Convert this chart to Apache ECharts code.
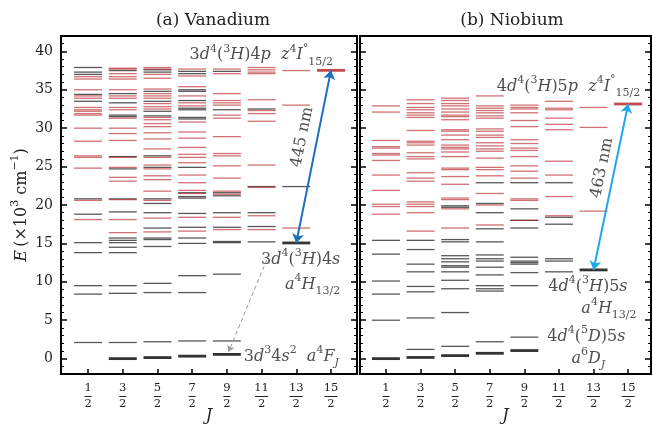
<!DOCTYPE html>
<html><head><meta charset="utf-8">
<script src="https://cdn.jsdelivr.net/npm/echarts@6/dist/echarts.min.js"></script>
<style>html,body{margin:0;padding:0;background:#fff}#c{width:653px;height:424px}</style>
</head><body><div id="c"></div>
<script>
// ---- tick labels: J = num/2 ----
const J_NUM = ['1','3','5','7','9','11','13','15'];
const J_DEN = '2';

// ---- Vanadium levels (x10^3 cm^-1), one list per J ----
const vEven = [
  [37.9, 37.3, 37.0, 34.4, 33.5, 20.8, 18.8, 15.1, 13.8, 9.5, 8.4, 2.1],
  [37.5, 34.5, 33.3, 31.7, 31.5, 26.3, 24.7, 20.8, 19.1, 15.7, 15.4, 15.1, 14.5, 13.8, 9.5, 8.5, 2.1],
  [37.6, 37.3, 34.8, 33.5, 32.2, 31.6, 26.4, 24.9, 20.8, 20.2, 19.0, 17.0, 15.7, 15.5, 14.6, 9.8, 8.6, 2.2],
  [37.4, 37.1, 35.0, 34.8, 33.6, 32.6, 32.4, 31.4, 31.2, 24.9, 21.6, 21.1, 20.9, 18.9, 17.1, 15.7, 15.0, 10.8, 8.6, 2.3],
  [37.4, 32.4, 21.6, 21.2, 19.0, 17.1, 15.25, 15.1, 11.0, 2.3],
  [32.5, 22.4, 19.0, 17.2, 15.2],
  [22.4],
  []
];
const vOdd = [
  [36.7, 36.4, 35.0, 34.2, 33.9, 32.7, 32.4, 32.2, 31.9, 31.7, 30.0, 28.3, 26.4, 26.2, 24.8, 20.6, 18.1],
  [37.8, 37.7, 37.1, 36.7, 36.4, 35.0, 34.2, 33.9, 32.7, 32.4, 31.3, 30.0, 29.3, 28.4, 26.2, 24.9, 23.6, 23.1, 20.7, 18.1, 16.4],
  [37.9, 37.7, 37.0, 36.5, 35.1, 34.5, 34.2, 33.9, 33.2, 32.8, 32.5, 31.4, 31.1, 30.6, 30.2, 29.4, 28.6, 27.3, 26.2, 25.2, 24.7, 23.8, 23.3, 21.8, 20.6, 18.3, 16.5],
  [37.7, 36.8, 35.4, 34.2, 33.3, 32.9, 30.8, 29.5, 28.7, 27.5, 26.6, 26.2, 25.5, 23.9, 22.9, 21.9, 21.5, 18.4, 16.6],
  [37.7, 37.1, 34.5, 33.6, 33.3, 33.0, 31.7, 31.3, 28.9, 26.7, 26.4, 25.1, 23.5, 21.8, 21.4, 18.4, 16.8],
  [37.9, 37.6, 37.3, 37.1, 33.7, 32.3, 31.9, 30.9, 25.2, 22.3, 18.6, 16.8],
  [37.5, 33.0, 17.0],
  []
];
// ground multiplet a4F_J (J index, E) and the transition levels
const vGround = [[1, 0.0], [2, 0.137], [3, 0.323], [4, 0.553]];
const vLower = [6, 15.06];   // 3d4(3H)4s a4H13/2
const vUpper = [7, 37.53];   // 3d4(3H)4p z4I15/2

// ---- Niobium levels ----
const nEven = [
  [15.4, 13.6, 10.1, 8.4, 5.0],
  [15.4, 14.2, 12.3, 11.3, 9.4, 8.7, 5.3, 1.2],
  [19.9, 19.7, 15.5, 15.2, 13.4, 13.0, 12.6, 12.1, 11.9, 11.3, 10.2, 9.1, 6.0, 1.6],
  [22.9, 20.2, 19.0, 16.9, 15.2, 13.5, 13.0, 12.7, 11.9, 10.9, 9.5, 9.1, 8.8, 2.2],
  [22.9, 19.5, 18.0, 17.0, 13.2, 12.7, 12.5, 12.3, 11.2, 9.5, 2.8],
  [22.9, 18.4, 17.5, 13.0, 12.7, 11.3],
  [],
  []
];
const nOdd = [
  [32.9, 32.1, 28.4, 27.6, 27.4, 26.7, 26.5, 25.8, 23.9, 21.9, 20.1, 19.8, 18.8],
  [33.7, 33.2, 32.7, 32.4, 32.0, 31.7, 31.4, 29.7, 28.3, 28.1, 27.8, 26.8, 26.3, 26.0, 24.2, 23.5, 23.1, 20.4, 20.1, 19.8, 19.0, 16.6],
  [33.9, 33.6, 33.2, 32.9, 32.5, 32.1, 31.7, 31.5, 31.1, 29.8, 29.6, 29.1, 28.5, 27.8, 27.5, 27.3, 26.9, 26.3, 24.8, 24.6, 23.7, 22.7, 20.9, 20.7, 19.5, 17.0],
  [34.2, 32.9, 32.6, 32.3, 32.0, 31.6, 31.3, 29.9, 29.6, 29.1, 28.8, 28.1, 27.7, 27.3, 27.0, 26.1, 24.9, 24.6, 23.8, 21.5, 20.0, 17.4],
  [33.0, 32.7, 32.5, 32.0, 31.0, 30.2, 28.5, 28.0, 27.4, 27.1, 26.3, 25.1, 24.4, 23.5, 20.8, 20.6, 18.0],
  [33.5, 32.6, 32.4, 31.3, 30.5, 29.8, 25.7, 23.9, 21.1, 18.6],
  [32.7, 30.1, 19.2],
  []
];
const nGround = [[0, 0.0], [1, 0.154], [2, 0.392], [3, 0.695], [4, 1.050]];
const nLower = [6, 11.55];   // 4d4(3H)5s a4H13/2
const nUpper = [7, 33.15];   // 4d4(3H)5p z4I15/2

// ---- labels ----
const TITLES = ['(a) Vanadium', '(b) Niobium'];
const WAVELENGTHS = ['445 nm', '463 nm'];

// ================= rendering =================
const SERIF = 'DejaVu Serif';
const INK = '#222';
const BLACK = 'rgba(0,0,0,0.82)';
const RED = 'rgba(180,28,34,0.78)';

function pts(levels) {
  const out = [];
  levels.forEach((arr, j) => arr.forEach(e => out.push([j, e])));
  return out;
}

const rich = {
  r:  {fontFamily: SERIF, fontSize: 16, color: INK, lineHeight: 24},
  i:  {fontFamily: SERIF, fontSize: 16, color: INK, fontStyle: 'italic', lineHeight: 24},
  sp: {fontFamily: SERIF, fontSize: 11, color: INK, lineHeight: 12, verticalAlign: 'top'},
  sb: {fontFamily: SERIF, fontSize: 11, color: INK, lineHeight: 9, verticalAlign: 'bottom'},
  sbi:{fontFamily: SERIF, fontSize: 11, color: INK, fontStyle: 'italic', lineHeight: 9, verticalAlign: 'bottom'}
};

function levelSeries(name, data, color, xi, h, z) {
  return {
    type: 'scatter', name, xAxisIndex: xi, yAxisIndex: xi * 2,
    data, symbol: 'rect', symbolSize: [28, h], silent: true, z,
    itemStyle: {color}, emphasis: {disabled: true}, animation: false
  };
}

function arrowSeries(lower, upper, color, xi) {
  return {
    type: 'lines', coordinateSystem: 'cartesian2d', xAxisIndex: xi, yAxisIndex: xi * 2,
    symbol: ['arrow', 'arrow'], symbolSize: 9, silent: true, z: 6, animation: false,
    lineStyle: {color, width: 2, opacity: 1},
    data: [{coords: [lower, upper]}]
  };
}

function annot(value, text, opts) {
  return {value, label: Object.assign({show: true, formatter: text, rich, position: 'inside'}, opts)};
}

function annotSeries(items, xi) {
  return {
    type: 'scatter', xAxisIndex: xi, yAxisIndex: xi * 2, symbolSize: 1, silent: true, z: 8,
    itemStyle: {color: 'rgba(0,0,0,0)'}, animation: false, data: items
  };
}

const mid = (a, b) => [(a[0] + b[0]) / 2, (a[1] + b[1]) / 2];

function xAxisFor(gi, min, max) {
  return {
    type: 'value', gridIndex: gi, min, max, minInterval: 1, maxInterval: 1, splitNumber: 8,
    name: 'J', nameLocation: 'middle', nameGap: 34, nameMoveOverlap: false,
    nameTextStyle: {fontFamily: SERIF, fontSize: 16, fontStyle: 'italic', color: INK, verticalAlign: 'top'},
    axisLine: {show: false, onZero: false},
    axisTick: {show: true, inside: true, length: 5, lineStyle: {color: '#000', width: 1.5}},
    splitLine: {show: false},
    axisLabel: {
      margin: 8, interval: 0,
      formatter: v => {
        const k = Math.round(v);
        if (Math.abs(v - k) > 1e-6 || k < 0 || k >= J_NUM.length) return '';
        const bar = J_NUM[k].length > 1 ? 'b2' : 'b1';
        return '{n|' + J_NUM[k] + '}\n{' + bar + '| }\n{n|' + J_DEN + '}';
      },
      rich: {
        n: {fontFamily: SERIF, fontSize: 11.5, color: INK, lineHeight: 13, align: 'center'},
        b1: {width: 7, height: 1, lineHeight: 3, fontSize: 1, backgroundColor: INK, align: 'center'},
        b2: {width: 13, height: 1, lineHeight: 3, fontSize: 1, backgroundColor: INK, align: 'center'}
      }
    }
  };
}

function yAxisFor(gi, position, labels) {
  const ax = {
    type: 'value', gridIndex: gi, position, min: -2, max: 42,
    minInterval: 5, maxInterval: 5, splitNumber: 9,
    axisLine: {show: false, onZero: false},
    axisTick: {show: true, inside: true, length: 6, lineStyle: {color: '#000', width: 1.5}},
    minorTick: {show: true, splitNumber: 5, length: 3, lineStyle: {color: '#000', width: 1}},
    splitLine: {show: false}, minorSplitLine: {show: false},
    axisLabel: {show: labels, margin: 8, fontFamily: SERIF, fontSize: 14, color: INK,
      formatter: v => (Math.abs(v % 5) < 1e-6 && v >= 0 && v <= 40) ? String(v) : ''}
  };
  if (labels) {
    ax.name = '{i|E} {r|(×10}{sp|3}{r| cm}{sp|−1}{r|)}';
    ax.nameLocation = 'middle';
    ax.nameGap = 27;
    ax.nameRotate = 90;
    ax.nameTextStyle = {rich};
  }
  return ax;
}

const chart = echarts.init(document.getElementById('c'));

const gridBase = {top: 36, height: 338, show: true, borderColor: '#000', borderWidth: 2,
  backgroundColor: 'transparent', containLabel: false, outerBoundsMode: 'none'};

const option = {
  backgroundColor: '#fff',
  animation: false,
  title: [
    {text: TITLES[0], left: 208, top: 7, textAlign: 'center',
     textStyle: {fontFamily: SERIF, fontWeight: 'normal', fontSize: 17, color: INK}},
    {text: TITLES[1], left: 507, top: 7, textAlign: 'center',
     textStyle: {fontFamily: SERIF, fontWeight: 'normal', fontSize: 17, color: INK}}
  ],
  grid: [
    Object.assign({left: 61, width: 296}, gridBase),
    Object.assign({left: 360, width: 291}, gridBase)
  ],
  xAxis: [xAxisFor(0, -0.78, 7.75), xAxisFor(1, -0.75, 7.66)],
  yAxis: [yAxisFor(0, 'left', true), yAxisFor(0, 'right', false),
          yAxisFor(1, 'left', false), yAxisFor(1, 'right', false)],
  series: [
    levelSeries('V even', pts(vEven), BLACK, 0, 1.3, 2),
    levelSeries('V odd', pts(vOdd), RED, 0, 1.3, 3),
    levelSeries('V ground', vGround, '#000', 0, 2.8, 4),
    levelSeries('V lower', [vLower], '#000', 0, 2.8, 4),
    levelSeries('V upper', [vUpper], 'rgb(180,28,34)', 0, 2.8, 4),
    arrowSeries(vLower, vUpper, '#1f6fc0', 0),
    {
      type: 'lines', coordinateSystem: 'cartesian2d', xAxisIndex: 0, yAxisIndex: 0,
      symbol: ['none', 'arrow'], symbolSize: 6, silent: true, z: 5, animation: false,
      lineStyle: {color: '#999', width: 1, type: [4, 3], opacity: 1},
      data: [{coords: [[vLower[0] - 0.85, vLower[1] - 2.2], [vGround[3][0] + 0.05, vGround[3][1] + 0.35]]}]
    },
    annotSeries([
      annot(vUpper, '{r|3}{i|d}{sp|4}{r|(}{sp|3}{i|H}{r|)4}{i|p}{r|  }{i|z}{sp|4}{i|I}{sp|°}{sb|15/2}',
        {align: 'right', offset: [2, -15]}),
      annot(vLower, '{r|3}{i|d}{sp|4}{r|(}{sp|3}{i|H}{r|)4}{i|s}', {align: 'right', offset: [44, 17]}),
      annot(vLower, '{i|a}{sp|4}{i|H}{sb|13/2}', {align: 'right', offset: [44, 42]}),
      annot(vGround[3], '{r|3}{i|d}{sp|3}{r|4}{i|s}{sp|2}{r|  }{i|a}{sp|4}{i|F}{sbi|J}', {align: 'left', offset: [17, 2]}),
      annot(mid(vLower, vUpper), '{r|' + WAVELENGTHS[0] + '}', {align: 'center', rotate: 78.6, offset: [17, -15]})
    ], 0),

    levelSeries('Nb even', pts(nEven), BLACK, 1, 1.3, 2),
    levelSeries('Nb odd', pts(nOdd), RED, 1, 1.3, 3),
    levelSeries('Nb ground', nGround, '#000', 1, 2.8, 4),
    levelSeries('Nb lower', [nLower], '#000', 1, 2.8, 4),
    levelSeries('Nb upper', [nUpper], 'rgb(180,28,34)', 1, 2.8, 4),
    arrowSeries(nLower, nUpper, '#1ea8ec', 1),
    annotSeries([
      annot(nUpper, '{r|4}{i|d}{sp|4}{r|(}{sp|3}{i|H}{r|)5}{i|p}{r|  }{i|z}{sp|4}{i|I}{sp|°}{sb|15/2}',
        {align: 'right', offset: [12, -17]}),
      annot(nLower, '{r|4}{i|d}{sp|4}{r|(}{sp|3}{i|H}{r|)5}{i|s}', {align: 'right', offset: [34, 17]}),
      annot(nLower, '{i|a}{sp|4}{i|H}{sb|13/2}', {align: 'right', offset: [43, 39]}),
      annot(nGround[4], '{r|4}{i|d}{sp|4}{r|(}{sp|5}{i|D}{r|)5}{i|s}', {align: 'center', offset: [62, -14]}),
      annot(nGround[4], '{i|a}{sp|6}{i|D}{sbi|J}', {align: 'center', offset: [64, 8]}),
      annot(mid(nLower, nUpper), '{r|' + WAVELENGTHS[1] + '}', {align: 'center', rotate: 78.4, offset: [17, -12.5]})
    ], 1)
  ]
};

chart.setOption(option);
</script>
</body></html>
